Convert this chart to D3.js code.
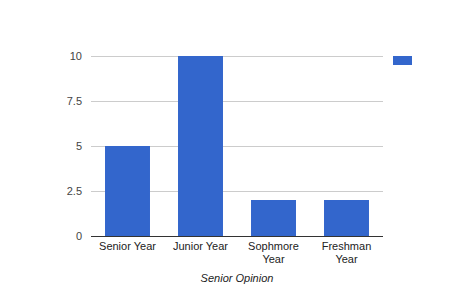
<!DOCTYPE html>
<html>
<head>
<meta charset="utf-8">
<script src="https://cdn.jsdelivr.net/npm/d3@7"></script>
<style>
  body { margin: 0; background: #fff; }
  text { font-family: Arial, "Liberation Sans", sans-serif; }
</style>
</head>
<body>
<svg id="chart"></svg>
<script>
var categories = [['Senior Year'], ['Junior Year'], ['Sophmore', 'Year'], ['Freshman', 'Year']];
var values = [5, 10, 2, 2];
var yTicks = [0, 2.5, 5, 7.5, 10];
var xTitle = 'Senior Opinion';

var width = 474, height = 293;
var margin = { top: 56, right: 91, bottom: 57, left: 91 };

var svg = d3.select('#chart')
    .attr('width', width)
    .attr('height', height);

var plotW = width - margin.left - margin.right;
var plotH = height - margin.top - margin.bottom;

var g = svg.append('g')
    .attr('transform', 'translate(' + margin.left + ',' + margin.top + ')');

var x = d3.scaleBand()
    .domain(d3.range(categories.length))
    .range([0, plotW])
    .paddingInner(0.384)
    .paddingOuter(0.192);

var y = d3.scaleLinear()
    .domain([0, 10])
    .range([plotH, 0]);

// gridlines
g.selectAll('.grid')
    .data(yTicks.slice(1))
    .enter().append('line')
    .attr('x1', 0)
    .attr('x2', plotW)
    .attr('y1', function(d) { return y(d) + 0.5; })
    .attr('y2', function(d) { return y(d) + 0.5; })
    .attr('stroke', '#cccccc')
    .attr('stroke-width', 1);

// y tick labels
g.selectAll('.ytick')
    .data(yTicks)
    .enter().append('text')
    .attr('x', -9)
    .attr('y', function(d) { return y(d); })
    .attr('dy', '0.35em')
    .attr('text-anchor', 'end')
    .attr('font-size', 11)
    .attr('fill', '#444')
    .text(function(d) { return d; });

// bars
g.selectAll('.bar')
    .data(values)
    .enter().append('rect')
    .attr('x', function(d, i) { return x(i); })
    .attr('y', function(d) { return y(d); })
    .attr('width', x.bandwidth())
    .attr('height', function(d) { return plotH - y(d); })
    .attr('fill', '#3366cc');

// baseline
g.append('line')
    .attr('x1', 0)
    .attr('x2', plotW)
    .attr('y1', plotH + 0.5)
    .attr('y2', plotH + 0.5)
    .attr('stroke', '#333')
    .attr('stroke-width', 1);

// category labels
var labels = g.selectAll('.xlab')
    .data(categories)
    .enter().append('text')
    .attr('x', function(d, i) { return x(i) + x.bandwidth() / 2; })
    .attr('y', plotH + 14)
    .attr('text-anchor', 'middle')
    .attr('font-size', 11)
    .attr('fill', '#222');

labels.selectAll('tspan')
    .data(function(d) { return d; })
    .enter().append('tspan')
    .attr('x', function() { return d3.select(this.parentNode).attr('x'); })
    .attr('dy', function(d, i) { return i === 0 ? 0 : 13; })
    .text(function(d) { return d; });

// axis title
g.append('text')
    .attr('x', plotW / 2)
    .attr('y', plotH + 46)
    .attr('text-anchor', 'middle')
    .attr('font-size', 11)
    .attr('font-style', 'italic')
    .attr('fill', '#222')
    .text(xTitle);

// legend swatch (no label)
svg.append('rect')
    .attr('x', 393)
    .attr('y', 56)
    .attr('width', 19)
    .attr('height', 9)
    .attr('fill', '#3366cc');
</script>
</body>
</html>
